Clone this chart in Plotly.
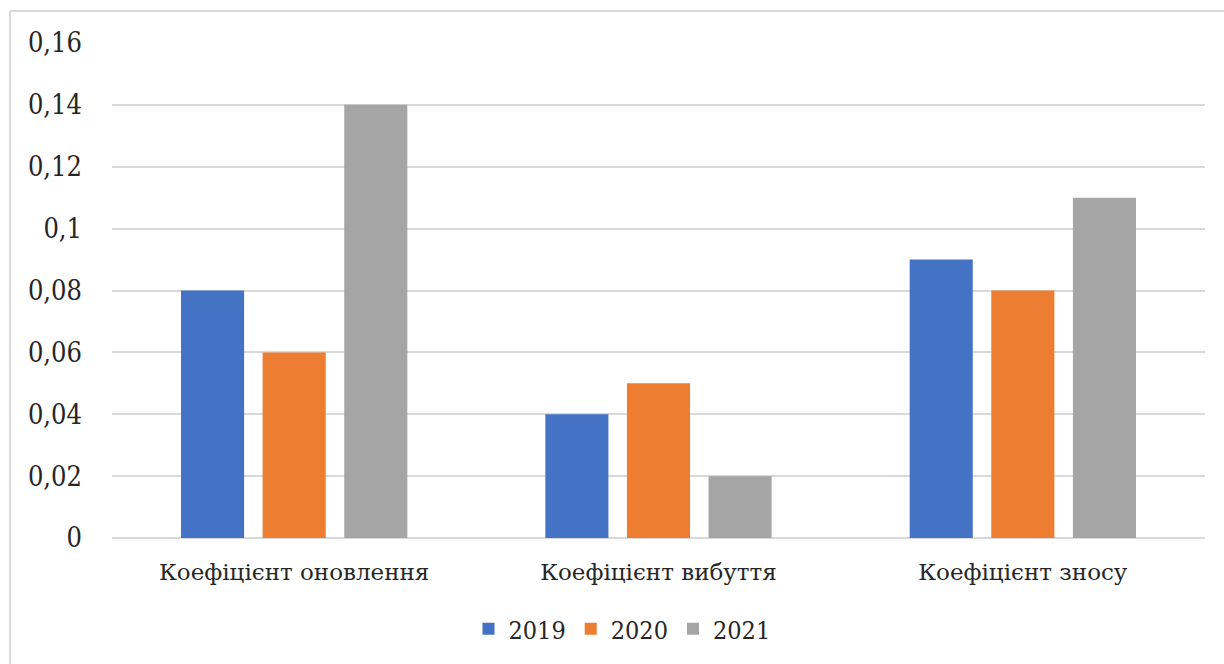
import plotly.graph_objects as go

categories = ["Коефіцієнт оновлення", "Коефіцієнт вибуття", "Коефіцієнт зносу"]
years = ["2019", "2020", "2021"]
values_2019 = [0.08, 0.04, 0.09]
values_2020 = [0.06, 0.05, 0.08]
values_2021 = [0.14, 0.02, 0.11]
tick_vals = [0, 0.02, 0.04, 0.06, 0.08, 0.10, 0.12, 0.14, 0.16]
tick_text = ["0", "0,02", "0,04", "0,06", "0,08", "0,1", "0,12", "0,14", "0,16"]

colors = ["#4472C4", "#ED7D31", "#A5A5A5"]
series = [values_2019, values_2020, values_2021]

fig = go.Figure()
for name, vals, col in zip(years, series, colors):
    fig.add_trace(go.Bar(x=categories, y=vals, name=name, marker=dict(color=col, line=dict(width=0))))

W, H = 1224, 664
ml, mr, mt, mb = 112, 19, 43, 126
pw, ph = W - ml - mr, H - mt - mb

def px_to_paper_x(px):
    return (px - ml) / pw

def px_to_paper_y(py):
    return (H - mb - py) / ph

fig.update_layout(
    width=W, height=H,
    margin=dict(l=ml, r=mr, t=mt, b=mb, autoexpand=False),
    paper_bgcolor="white", plot_bgcolor="white",
    barmode="group", bargap=0.328, bargroupgap=0.227,
    font=dict(family="DejaVu Serif", color="#262626"),
    showlegend=True,
    legend=dict(orientation="h", x=px_to_paper_x(622), xanchor="center", y=px_to_paper_y(629), yanchor="middle",
                font=dict(size=25, family="DejaVu Serif Condensed"), traceorder="normal", itemwidth=30),
    xaxis=dict(showgrid=False, showline=False, ticks="", ticklabelstandoff=18,
               tickfont=dict(size=23, family="DejaVu Serif")),
    yaxis=dict(range=[0, 0.16], tickvals=tick_vals, ticktext=tick_text, showgrid=True,
               gridcolor="#D9D9D9", gridwidth=1.5, zeroline=True, zerolinecolor="#D9D9D9", zerolinewidth=1.5,
               showline=False, ticks="", ticklabelstandoff=29, tickfont=dict(size=27, family="DejaVu Serif Condensed")),
    shapes=[
        dict(type="line", xref="paper", yref="paper", x0=px_to_paper_x(10), x1=px_to_paper_x(1230),
             y0=px_to_paper_y(11), y1=px_to_paper_y(11), line=dict(color="#D9D9D9", width=2)),
        dict(type="line", xref="paper", yref="paper", x0=px_to_paper_x(10), x1=px_to_paper_x(10),
             y0=px_to_paper_y(11), y1=px_to_paper_y(670), line=dict(color="#D9D9D9", width=2)),
    ],
)

fig.write_html("out.html")
